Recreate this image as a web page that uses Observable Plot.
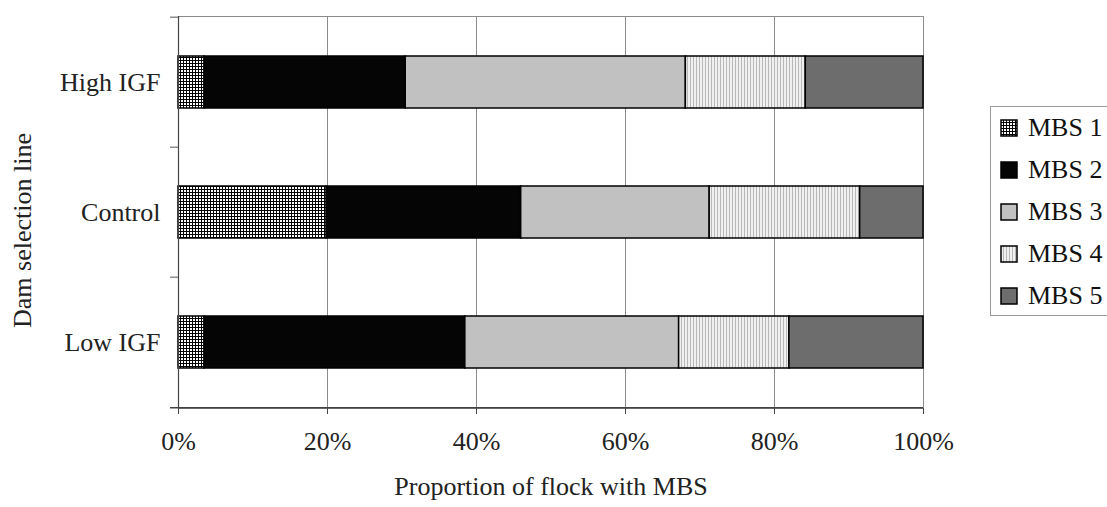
<!DOCTYPE html>
<html>
<head>
<meta charset="utf-8">
<script src="https://cdn.jsdelivr.net/npm/d3@7"></script>
<script src="https://cdn.jsdelivr.net/npm/@observablehq/plot@0.6"></script>
<style>
  html, body { margin: 0; padding: 0; background: #fff; overflow: hidden; }
  #wrap { position: relative; width: 1107px; height: 507px; font-family: "Liberation Serif", serif; }
  #legend { position: absolute; left: 990px; top: 106px; width: 140px; height: 210px;
            border: 1px solid #9a9a9a; background: #fff; box-sizing: border-box; }
  .item { position: absolute; left: 9px; height: 30px; display: flex; align-items: center;
          font-size: 26px; color: #111; white-space: nowrap; }
  .item svg { margin-right: 10px; }
</style>
</head>
<body>
<div id="wrap"></div>
<script>
// ---- data ----
const categories = ["High IGF", "Control", "Low IGF"];
const levels = ["MBS 1", "MBS 2", "MBS 3", "MBS 4", "MBS 5"];
const mbs1 = [3.5, 19.9, 3.5];
const mbs2 = [27.0, 26.1, 35.0];
const mbs3 = [37.6, 25.3, 28.7];
const mbs4 = [16.1, 20.2, 14.8];
const mbs5 = [15.8, 8.5, 18.0];
const xTicks = [0, 20, 40, 60, 80, 100];
const fills = ["url(#pat-mbs1)", "#050505", "#c1c1c1", "url(#pat-mbs4)", "#6d6d6d"];

const series = [mbs1, mbs2, mbs3, mbs4, mbs5];
const rows = [];
categories.forEach((c, i) => levels.forEach((l, j) => rows.push({line: c, level: l, value: series[j][i]})));

const W = 1107, H = 507, mL = 178, mR = 184, mT = 16, mB = 99;
const step = (H - mT - mB) / categories.length;
const tickLen = 8 / (W - mL - mR) * 100; // left tick length in x units

const chart = Plot.plot({
  width: W, height: H,
  marginLeft: mL, marginRight: mR, marginTop: mT, marginBottom: mB,
  style: {fontFamily: "Liberation Serif, serif", fontSize: "26px", background: "#fff", color: "#111"},
  x: {domain: [0, 100], label: null},
  y: {domain: categories, paddingInner: 0.602, paddingOuter: 0.301, label: null},
  color: {type: "ordinal", domain: levels, range: fills},
  marks: [
    Plot.frame({stroke: "#8c8c8c"}),
    Plot.gridX(xTicks, {stroke: "#8c8c8c", strokeOpacity: 1}),
    Plot.barX(rows, Plot.stackX({y: "line", x: "value", fill: "level", stroke: "#000", strokeWidth: 1.5})),
    Plot.ruleX([0], {stroke: "#444", strokeWidth: 1.2}),
    Plot.ruleY(categories, {y: d => d, dy: -step / 2, x1: -tickLen, x2: 0, stroke: "#555"}),
    Plot.ruleY([categories[categories.length - 1]], {y: d => d, dy: step / 2, x1: -tickLen, x2: 100, stroke: "#444", strokeWidth: 1.5}),
    Plot.axisX(xTicks, {tickSize: 6, tickPadding: 17, tickFormat: d => d + "%", stroke: "#444", fill: "#222", fontSize: 26}),
    Plot.axisY({tickSize: 0, tickPadding: 18, fill: "#222", fontSize: 26}),
    Plot.text(["Dam selection line"], {text: d => d, frameAnchor: "left", textAnchor: "middle", rotate: -90, dx: -156, dy: 18, fontSize: 26, fill: "#222"}),
    Plot.text(["Proportion of flock with MBS"], {text: d => d, frameAnchor: "bottom", textAnchor: "middle", dy: 86, fontSize: 26, fill: "#222"})
  ]
});

// patterns
const ns = "http://www.w3.org/2000/svg";
const defs = document.createElementNS(ns, "defs");
defs.innerHTML = `
  <pattern id="pat-mbs1" patternUnits="userSpaceOnUse" width="3" height="3">
    <rect width="3" height="3" fill="#000"/>
    <rect x="1" y="1" width="2" height="2" fill="#fff"/>
  </pattern>
  <pattern id="pat-mbs4" patternUnits="userSpaceOnUse" width="3" height="3">
    <rect width="3" height="3" fill="#f0f0f0"/>
    <rect x="0" y="0" width="1" height="3" fill="#b8b8b8"/>
  </pattern>`;
chart.insertBefore(defs, chart.firstChild);

const wrap = document.getElementById("wrap");
wrap.appendChild(chart);

// legend
const legend = document.createElement("div");
legend.id = "legend";
levels.forEach((l, j) => {
  const it = document.createElement("div");
  it.className = "item";
  it.style.top = (6 + j * 42) + "px";
  it.innerHTML = `<svg width="18" height="18"><rect x="1" y="1" width="16" height="16" fill="${fills[j]}" stroke="#000" stroke-width="1.5"/></svg><span>${l}</span>`;
  legend.appendChild(it);
});
wrap.appendChild(legend);
</script>
</body>
</html>
